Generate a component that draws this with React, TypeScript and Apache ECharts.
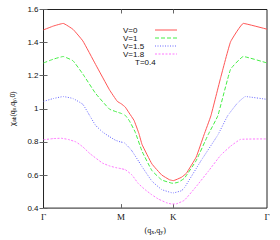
import React, { useEffect, useRef } from "react";
import * as echarts from "echarts";

// k-path coordinate (0..100), Γ → M → K → Γ
const kTicks = [0, 34.7, 58.0, 100];
const kLabels = ["Γ", "M", "K", "Γ"];
const yTicks = [0.4, 0.6, 0.8, 1.0, 1.2, 1.4, 1.6];

const seriesNames = ["V=0", "V=1", "V=1.5", "V=1.8"];

const v0: [number, number][] = [
  [0, 1.477], [4.4, 1.5], [8.8, 1.516], [13.2, 1.48], [17.6, 1.41], [23.3, 1.268],
  [29.5, 1.115], [33.0, 1.045], [34.8, 1.03], [36.6, 1.01], [38.3, 0.975], [40.5, 0.93],
  [42.7, 0.85], [44.1, 0.784], [48.5, 0.667], [52.9, 0.6], [56.4, 0.571], [58.1, 0.566],
  [61.7, 0.586], [63.9, 0.61], [68.3, 0.708], [71.8, 0.842], [74.9, 0.958], [79.3, 1.19],
  [83.7, 1.405], [89.4, 1.516], [100, 1.481],
];
const v1: [number, number][] = [
  [0, 1.277], [4.4, 1.3], [8.8, 1.316], [13.2, 1.29], [17.6, 1.21], [23.3, 1.093],
  [29.5, 0.998], [33.0, 0.98], [34.8, 0.972], [36.6, 0.96], [38.3, 0.93], [41.0, 0.86],
  [44.1, 0.743], [48.5, 0.627], [52.9, 0.57], [57.3, 0.551], [58.1, 0.55], [60.4, 0.557],
  [63.0, 0.58], [68.3, 0.687], [73.6, 0.842], [78.0, 0.958], [83.7, 1.239], [89.4, 1.316],
  [100, 1.277],
];
const v15: [number, number][] = [
  [0, 1.045], [4.4, 1.062], [8.8, 1.074], [13.2, 1.062], [17.6, 1.027], [20.7, 0.958],
  [23.3, 0.9], [26.4, 0.86], [29.5, 0.832], [32.2, 0.81], [34.4, 0.8], [36.1, 0.795],
  [38.3, 0.766], [39.6, 0.745], [42.7, 0.68], [44.1, 0.65], [48.5, 0.563], [52.9, 0.512],
  [57.3, 0.493], [58.1, 0.492], [61.7, 0.505], [63.0, 0.522], [70.5, 0.687], [78.0, 0.842],
  [82.4, 0.958], [86.8, 1.035], [90.3, 1.074], [100, 1.057],
];
const v18: [number, number][] = [
  [0, 0.813], [4.4, 0.82], [7.9, 0.822], [11.0, 0.815], [14.5, 0.8], [17.6, 0.77],
  [20.7, 0.73], [26.4, 0.672], [29.5, 0.655], [32.2, 0.645], [34.8, 0.638], [36.6, 0.632],
  [39.6, 0.6], [42.3, 0.55], [45.4, 0.512], [48.5, 0.48], [51.5, 0.454], [55.1, 0.432],
  [57.3, 0.425], [59.5, 0.426], [63.0, 0.447], [68.3, 0.53], [73.6, 0.62], [79.3, 0.72],
  [83.7, 0.774], [88.1, 0.815], [100, 0.818],
];
const seriesData = [v0, v1, v15, v18];
const colors = ["#ff5555", "#44ee44", "#6666ff", "#ff77ff"];
const dashes: (number[] | "solid")[] = ["solid", [4, 2], [1, 1.5], [2, 1.5]];

export default function App() {
  const ref = useRef<HTMLDivElement>(null);
  useEffect(() => {
    if (!ref.current) return;
    const chart = echarts.init(ref.current, null, { renderer: "svg" });
    const sans = "Liberation Sans";
    const serif = "Liberation Serif";
    const tickStyle = { inside: true, length: 4, lineStyle: { color: "#666", width: 1 } };
    chart.setOption({
      animation: false,
      backgroundColor: "#fff",
      grid: {
        left: 40, right: 13, top: 9.5, bottom: 23.5,
        show: true, borderColor: "#222", borderWidth: 1,
      },
      title: {
        text: "T=0.4", left: 135, top: 58,
        textStyle: { fontFamily: sans, fontSize: 8, fontWeight: "normal", color: "#111" },
        padding: 0,
      },
      legend: {
        orient: "vertical", left: 123, top: 26, align: "right",
        itemWidth: 22, itemHeight: 8, itemGap: 0, padding: 0,
        data: seriesNames,
        itemStyle: { opacity: 0 },
        lineStyle: { width: 1 },
        formatter: (n: string) => `{t|${n}}`,
        textStyle: {
          fontFamily: sans, fontSize: 8, color: "#111",
          rich: { t: { fontFamily: sans, fontSize: 8, color: "#111", width: 27, height: 8, align: "left" } },
        },
      },
      xAxis: [
        {
          type: "value", min: 0, max: 100,
          name: "{p|(q}{s|x}{p|,q}{s|y}{p|)}", nameLocation: "middle", nameGap: 13,
          nameTextStyle: {
            rich: {
              p: { fontFamily: serif, fontSize: 8, color: "#111" },
              s: { fontFamily: serif, fontSize: 6, color: "#111", padding: [4, 0, 0, 0] },
            },
          },
          axisLine: { show: false },
          splitLine: { show: false },
          axisTick: { ...tickStyle, customValues: kTicks.slice(1, 3) },
          axisLabel: {
            customValues: kTicks,
            showMinLabel: true, showMaxLabel: true,
            formatter: (v: number) => kLabels[kTicks.indexOf(v)] ?? "",
            fontFamily: serif, fontSize: 9, color: "#111", margin: 4,
          },
        },
        {
          type: "value", min: 0, max: 100, position: "top",
          axisLine: { show: false }, splitLine: { show: false },
          axisTick: { ...tickStyle, customValues: kTicks.slice(1, 3) },
          axisLabel: { show: false },
        },
      ],
      yAxis: [
        {
          type: "value", min: 0.4, max: 1.6, interval: 0.2,
          name: "{c|χ}{s|ab}{p|(q}{s|x}{p|,q}{s|y}{p|,0)}",
          nameLocation: "middle", nameRotate: 90, nameGap: 24,
          nameTextStyle: {
            rich: {
              c: { fontFamily: sans, fontSize: 8, color: "#111" },
              p: { fontFamily: sans, fontSize: 7, color: "#111" },
              s: { fontFamily: sans, fontSize: 5, color: "#111", padding: [4, 0, 0, 0] },
            },
          },
          axisLine: { show: false }, splitLine: { show: false },
          axisTick: tickStyle,
          axisLabel: {
            fontFamily: sans, fontSize: 8, color: "#111", margin: 5,
            formatter: (v: number) => {
              const t = yTicks.find((x) => Math.abs(x - v) < 1e-6);
              return String(Math.round((t ?? v) * 10) / 10);
            },
          },
        },
        {
          type: "value", min: 0.4, max: 1.6, interval: 0.2, position: "right",
          axisLine: { show: false }, splitLine: { show: false },
          axisTick: tickStyle, axisLabel: { show: false },
        },
      ],
      series: seriesData.map((d, i) => ({
        name: seriesNames[i],
        type: "line",
        data: d,
        showSymbol: false,
        symbol: "none",
        smooth: 0.1,
        color: colors[i],
        lineStyle: { color: colors[i], width: 1, type: dashes[i] },
      })),
    });
    return () => chart.dispose();
  }, []);
  return (
    <div
      ref={ref}
      style={{ position: "absolute", left: 0, top: 0, width: 280, height: 240 }}
    />
  );
}
